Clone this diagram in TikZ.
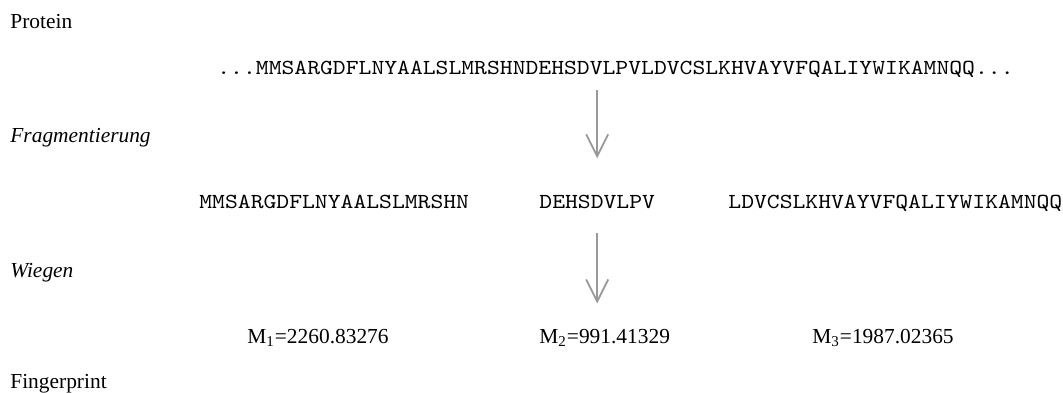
\documentclass[tikz,border=0pt]{standalone}
\usepackage{fontspec}
\setmainfont{Liberation Serif}
\setmonofont{Latin Modern Mono}[FakeStretch=1.143]
\usetikzlibrary{arrows.meta, positioning}

\begin{document}
\begin{tikzpicture}[
    x=0.5pt, y=-0.5pt,
    every node/.style={inner sep=0pt, anchor=base west, font=\fontsize{10.7}{12}\selectfont},
    labelstyle/.style={},
    seqstyle/.style={font=\fontsize{10.7}{12}\selectfont\ttfamily},
    massstyle/.style={},
    arrow/.style={-{Straight Barb[length=11pt, width=11pt]}, draw=black!40, line width=0.9pt}
]
\useasboundingbox (0,0) rectangle (1063,392);

% row labels
\node[labelstyle] (protein) at (10, 28) {Protein};
\node[labelstyle] (fragm) at (10, 142) {\itshape Fragmentierung};
\node[labelstyle] (wiegen) at (10, 277) {\itshape Wiegen};
\node[labelstyle] (finger) at (10, 388) {Fingerprint};

% sequence
\node[seqstyle] (seq) at (217, 74) {...MMSARGDFLNYAALSLMRSHNDEHSDVLPVLDVCSLKHVAYVFQALIYWIKAMNQQ...};

% fragments
\node[seqstyle] (frag1) at (199, 208) {MMSARGDFLNYAALSLMRSHN};
\node[seqstyle] (frag2) at (539, 208) {DEHSDVLPV};
\node[seqstyle] (frag3) at (728, 208) {LDVCSLKHVAYVFQALIYWIKAMNQQ};

% masses
\node[massstyle] (mass1) at (247, 343) {M\textsubscript{1}=2260.83276};
\node[massstyle] (mass2) at (539, 343) {M\textsubscript{2}=991.41329};
\node[massstyle] (mass3) at (812, 343) {M\textsubscript{3}=1987.02365};

% arrows
\draw[arrow] ([yshift=-8pt]seq.base -| frag2.north) -- ([yshift=18pt]frag2.north);
\draw[arrow] ([yshift=-12.5pt]frag2.base) -- ([yshift=12.5pt]frag2.base |- mass2.north);

\end{tikzpicture}
\end{document}
